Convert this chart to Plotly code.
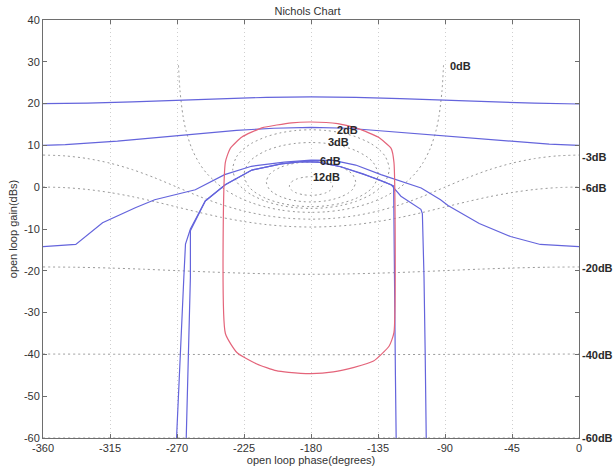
import plotly.graph_objects as go

# ---------------- data ----------------
x_tickvals = [-360, -315, -270, -225, -180, -135, -90, -45, 0]
x_ticktext = ["-360", "-315", "-270", "-225", "-180", "-135", "-90", "-45", "0"]
y_tickvals = [40, 30, 20, 10, 0, -10, -20, -30, -40, -50, -60]
y_ticktext = ["40", "30", "20", "10", "0", "-10", "-20", "-30", "-40", "-50", "-60"]

# closed-loop magnitude contours (grey, dotted)
m0_phase = [-269, -268, -266, -264, -260, -255, -250, -240, -230, -220, -210, -200, -190, -180,
            -170, -160, -150, -140, -130, -120, -110, -105, -100, -96, -94, -92, -91]
m0_gain = [29.14, 23.12, 17.11, 13.59, 9.19, 5.72, 3.30, 0.0, -2.18, -3.71, -4.77, -5.48, -5.89, -6.02,
           -5.89, -5.48, -4.77, -3.71, -2.18, 0.0, 3.30, 5.72, 9.19, 13.59, 17.11, 23.12, 29.14]

m2_phase = [-232.59, -230, -226, -220, -210, -200, -190, -180, -170, -160, -150, -140, -134, -130, -127.41,
            -130, -134, -140, -150, -160, -170, -180, -190, -200, -210, -220, -226, -230, -232.59]
m2_gain = [4.33, 7.28, 8.93, 10.48, 12.08, 13.04, 13.57, 13.74, 13.57, 13.04, 12.08, 10.48, 8.93, 7.28, 4.33,
           1.38, -0.27, -1.82, -3.42, -4.38, -4.91, -5.08, -4.91, -4.38, -3.42, -1.82, -0.27, 1.38, 4.33]

m3_phase = [-225.07, -222, -218, -210, -200, -190, -180, -170, -160, -150, -142, -138, -134.93,
            -138, -142, -150, -160, -170, -180, -190, -200, -210, -218, -222, -225.07]
m3_gain = [3.02, 5.82, 7.16, 8.76, 9.90, 10.50, 10.69, 10.50, 9.90, 8.76, 7.16, 5.82, 3.02,
           0.23, -1.12, -2.72, -3.86, -4.46, -4.65, -4.46, -3.86, -2.72, -1.12, 0.23, 3.02]

m6_phase = [-210, -208, -205, -200, -195, -190, -185, -180, -175, -170, -165, -160, -155, -152, -150,
            -152, -155, -160, -165, -170, -175, -180, -185, -190, -195, -200, -205, -208, -210]
m6_gain = [1.26, 3.01, 3.92, 4.83, 5.41, 5.77, 5.98, 6.04, 5.98, 5.77, 5.41, 4.83, 3.92, 3.01, 1.26,
           -0.49, -1.41, -2.32, -2.89, -3.26, -3.46, -3.53, -3.46, -3.26, -2.89, -2.32, -1.41, -0.49, 1.26]

m12_phase = [-194.55, -193, -190, -185, -180, -175, -170, -167, -165.45,
             -167, -170, -175, -180, -185, -190, -193, -194.55]
m12_gain = [0.28, 1.28, 1.90, 2.38, 2.51, 2.38, 1.90, 1.28, 0.28,
            -0.72, -1.34, -1.81, -1.95, -1.81, -1.34, -0.72, 0.28]

full_phase = [-360, -345, -330, -315, -300, -285, -270, -255, -240, -225, -210, -195, -180,
              -165, -150, -135, -120, -105, -90, -75, -60, -45, -30, -15, 0]
mneg3_gain = [7.69, 7.48, 6.84, 5.75, 4.21, 2.25, 0.02, -2.21, -4.17, -5.71, -6.80, -7.44, -7.65,
              -7.44, -6.80, -5.71, -4.17, -2.21, 0.02, 2.25, 4.21, 5.75, 6.84, 7.48, 7.69]
mneg6_gain = [0.04, -0.11, -0.55, -1.28, -2.26, -3.45, -4.74, -6.04, -7.23, -8.21, -8.94, -9.38, -9.53,
              -9.38, -8.94, -8.21, -7.23, -6.04, -4.74, -3.45, -2.26, -1.28, -0.55, -0.11, 0.04]
mneg20_phase = [-360, -337.5, -315, -292.5, -270, -247.5, -225, -202.5, -180,
                -157.5, -135, -112.5, -90, -67.5, -45, -22.5, 0]
mneg20_gain = [-19.08, -19.15, -19.34, -19.62, -19.96, -20.29, -20.57, -20.76, -20.83,
               -20.76, -20.57, -20.29, -19.96, -19.62, -19.34, -19.15, -19.08]
mneg40_phase = [-360, -270, -180, -90, 0]
mneg40_gain = [-39.91, -40.0, -40.09, -40.0, -39.91]
mneg60_gain = [-59.99, -60.0, -60.01, -60.0, -59.99]

# contour labels (inside the plot)
label_text = ["0dB", "2dB", "3dB", "6dB", "12dB"]
label_phase = [-88, -164, -169.6, -175, -180.3]
label_gain = [29.0, 13.8, 10.9, 6.2, 2.4]
# contour labels beside the right axis
edge_text = ["-3dB", "-6dB", "-20dB", "-40dB", "-60dB"]
edge_gain = [7.2, -0.2, -19.3, -40.2, -60.0]

# open-loop responses (blue)
ol1_phase = [-360, -330, -300, -270, -240, -210, -180, -150, -120, -90, -60, -30, 0]
ol1_gain = [20.0, 20.1, 20.4, 20.8, 21.2, 21.5, 21.6, 21.5, 21.2, 20.8, 20.4, 20.1, 19.9]

ol2_phase = [-360, -345, -310, -265, -230, -205, -180, -155, -130, -100, -60, -40, -20, 0]
ol2_gain = [10.0, 10.2, 11.0, 12.4, 13.6, 14.1, 14.3, 14.1, 13.4, 12.6, 11.3, 10.8, 10.3, 10.0]

ol3_phase = [-360, -338, -320, -298, -285, -265, -257.7, -238, -220, -198, -180, -165, -150, -133,
             -120, -106, -93, -88, -67, -46, -26, -10, 0]
ol3_gain = [-14.2, -13.7, -8.5, -4.9, -3.0, -1.2, -0.6, 3.0, 5.0, 6.0, 6.5, 6.4, 5.3, 3.0,
            1.5, -0.2, -3.0, -4.4, -8.7, -11.8, -13.7, -14.1, -14.2]

ol4_phase = [-270.3, -268, -266, -265.4, -264.3, -261.0, -251, -237.6, -219.7, -200, -186, -175, -160,
             -145, -135, -124.5, -124.3, -124.0, -123.3, -122.8]
ol4_gain = [-60, -40, -26, -21.5, -13.6, -10.0, -3.3, 0.6, 4.1, 5.6, 6.1, 6.0, 4.9,
            3.2, 1.9, 0.3, -10, -26, -45, -60]

ol5_phase = [-263.8, -262.5, -261.5, -261.0, -261.0, -251, -237.6, -219.7, -200, -186, -175, -160,
             -145, -135, -126.2, -119.6, -106.2, -105.2, -104.1, -103.3, -102.6]
ol5_gain = [-60, -40, -26, -21.5, -10.4, -3.3, 0.6, 4.1, 5.6, 6.1, 6.0, 4.9,
            3.2, 1.9, 0.6, -2.15, -5.3, -6.3, -21.5, -40, -60]

# bound (red)
bound_phase = [-237.5, -237.5, -234.2, -226.4, -213, -193, -180, -162, -148.4, -135, -126.2, -124.3,
               -124.3, -127.5, -138, -151, -165, -180, -195, -203.4, -216.4, -229.6, -237.5]
bound_gain = [-35, 6, 9.3, 12.0, 14.2, 15.4, 15.6, 15.2, 14.0, 12.0, 9.3, 6,
              -34.8, -38, -41.6, -43.1, -44.2, -44.6, -44.3, -43.9, -42.3, -39.6, -35]

# ---------------- figure ----------------
GREY = "#9a9a9a"
BLUE = "#6464dc"
RED = "#e4647a"
FONT = "Liberation Sans, Arial, sans-serif"

fig = go.Figure()

grey_sets = [
    (m0_phase, m0_gain), (m2_phase, m2_gain), (m3_phase, m3_gain), (m6_phase, m6_gain),
    (m12_phase, m12_gain), (full_phase, mneg3_gain), (full_phase, mneg6_gain),
    (mneg20_phase, mneg20_gain), (mneg40_phase, mneg40_gain), (mneg40_phase, mneg60_gain),
]
for px, gy in grey_sets:
    fig.add_trace(go.Scatter(x=px, y=gy, mode="lines",
                             line=dict(color=GREY, width=1, dash="2px,3px", shape="spline", smoothing=0.8),
                             hoverinfo="skip", showlegend=False))

for px, gy in [(ol1_phase, ol1_gain), (ol2_phase, ol2_gain), (ol3_phase, ol3_gain),
               (ol4_phase, ol4_gain), (ol5_phase, ol5_gain)]:
    fig.add_trace(go.Scatter(x=px, y=gy, mode="lines",
                             line=dict(color=BLUE, width=1.2),
                             hoverinfo="skip", showlegend=False))

fig.add_trace(go.Scatter(x=bound_phase, y=bound_gain, mode="lines",
                         line=dict(color=RED, width=1.2, shape="spline", smoothing=0.5),
                         hoverinfo="skip", showlegend=False))

for t, px, gy in zip(label_text, label_phase, label_gain):
    fig.add_annotation(x=px, y=gy, text=t, showarrow=False, xanchor="left", yanchor="middle",
                       font=dict(family=FONT, size=11, color="#2a2a2a", weight="bold"))

for t, gy in zip(edge_text, edge_gain):
    fig.add_annotation(xref="x domain", x=1.002, yref="y", y=gy, text=t, showarrow=False,
                       xanchor="left", yanchor="middle",
                       font=dict(family=FONT, size=11, color="#2a2a2a", weight="bold"))

axis_common = dict(showline=True, linecolor="#6e6e6e", linewidth=1, mirror="ticks",
                   ticks="inside", ticklen=4, tickcolor="#6e6e6e", zeroline=False,
                   tickfont=dict(family=FONT, size=11, color="#333333"))

fig.update_layout(
    width=615, height=476,
    margin=dict(l=40, r=36, t=20, b=33),
    paper_bgcolor="white", plot_bgcolor="white",
    title=dict(text="Nichols Chart", x=0.5, xanchor="center", y=0.985, yanchor="top",
               font=dict(family=FONT, size=11, color="#333333")),
    xaxis=dict(range=[-360, 0], tickvals=x_tickvals, ticktext=x_ticktext,
               showgrid=True, gridcolor="#cfcfcf", griddash="1px,3px", gridwidth=1,
               title=dict(text="open loop phase(degrees)", standoff=2,
                          font=dict(family=FONT, size=11, color="#333333")),
               **axis_common),
    yaxis=dict(range=[-60, 40], tickvals=y_tickvals, ticktext=y_ticktext,
               showgrid=False,
               title=dict(text="open loop gain(dBs)", standoff=4,
                          font=dict(family=FONT, size=11, color="#333333")),
               **axis_common),
)

fig.write_html("out.html")
